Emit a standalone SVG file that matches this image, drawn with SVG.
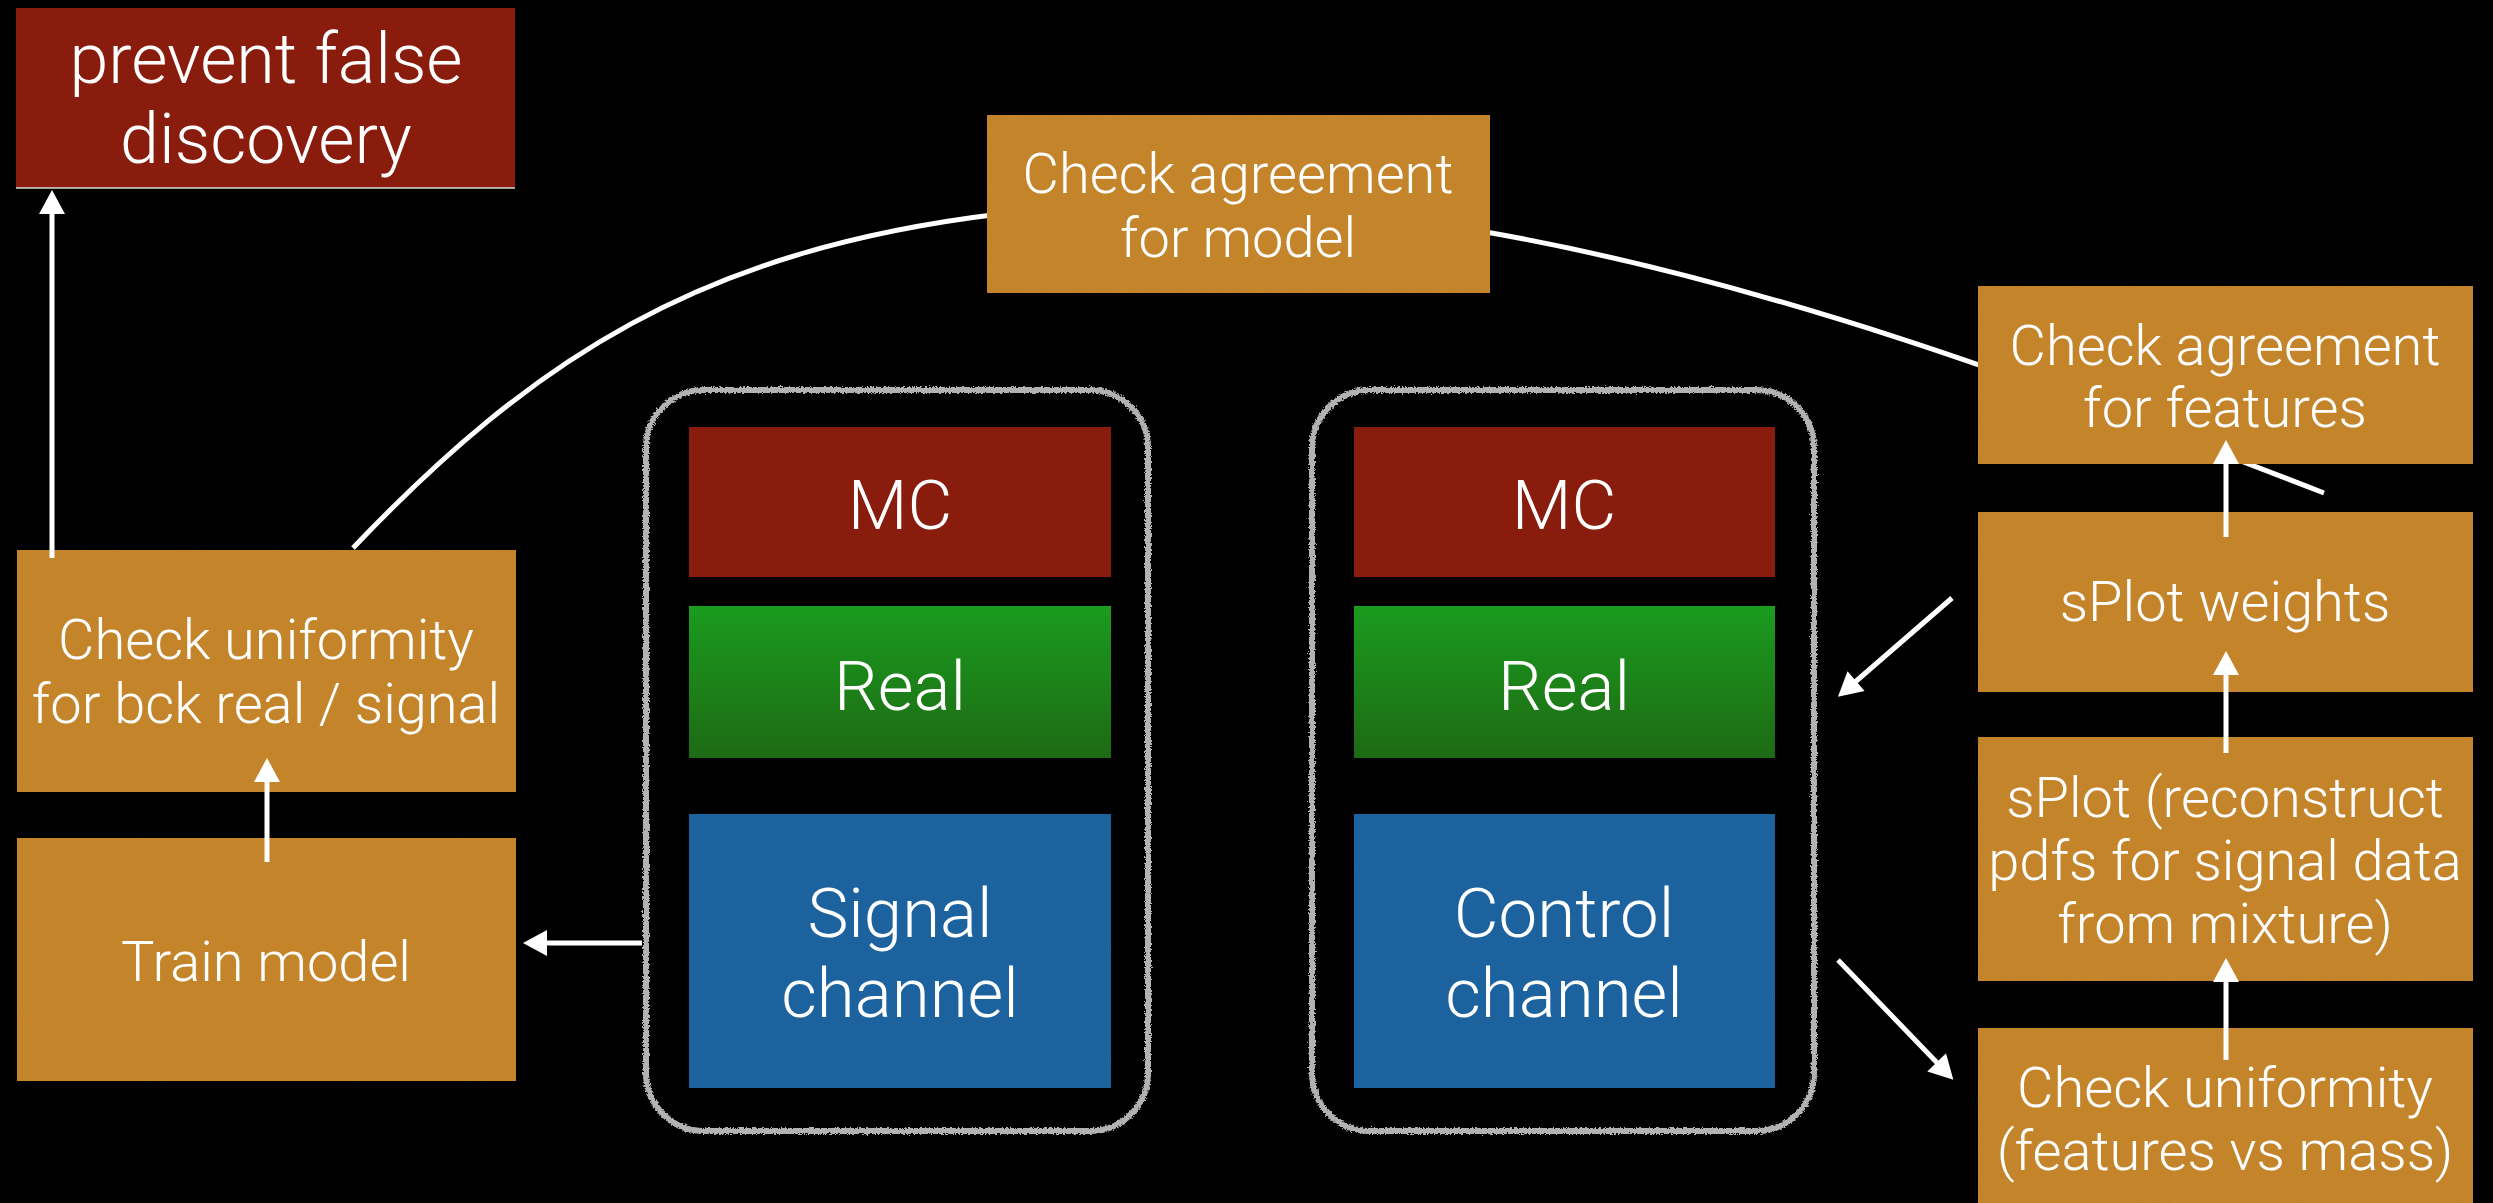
<svg xmlns="http://www.w3.org/2000/svg" width="2493" height="1203" viewBox="0 0 2493 1203">
<style>
.red{fill:#8c2217;filter:url(#grain)}
.org{fill:#c8872f;filter:url(#grain)}
.blu{fill:#2065a2;filter:url(#grain)}
.grn{fill:url(#gg)}
.t{font-family:Roboto,"Open Sans",Lato,"Liberation Sans",sans-serif;font-weight:300;fill:#ffffff;text-anchor:middle}
.big{font-size:69px}
.mid{font-size:56px}
.cont{fill:none;stroke:#b2b2b2;stroke-width:6;filter:url(#rough)}
.ln{fill:none;stroke:#ffffff;stroke-width:5}
.arr{fill:none;stroke:#ffffff;stroke-width:5;marker-end:url(#ah)}
.edge{stroke:#d8d8d8;stroke-width:1.5}
</style>
<defs>
<linearGradient id="gg" gradientUnits="userSpaceOnUse" x1="0" y1="606" x2="0" y2="758">
<stop offset="0" stop-color="#1b9b1f"/>
<stop offset="1" stop-color="#1d6a13"/>
</linearGradient>
<filter id="rough" x="-5%" y="-5%" width="110%" height="110%">
<feTurbulence type="fractalNoise" baseFrequency="0.55" numOctaves="2" seed="4" result="n"/>
<feDisplacementMap in="SourceGraphic" in2="n" scale="5" xChannelSelector="R" yChannelSelector="G"/>
</filter>
<filter id="grain" x="0" y="0" width="100%" height="100%">
<feTurbulence type="fractalNoise" baseFrequency="0.8" numOctaves="2" seed="7" result="t"/>
<feColorMatrix in="t" type="matrix" values="0 0 0 0 0  0 0 0 0 0  0 0 0 0 0  0 0 0 0.08 0" result="a"/>
<feComposite in="a" in2="SourceGraphic" operator="in" result="b"/>
<feMerge><feMergeNode in="SourceGraphic"/><feMergeNode in="b"/></feMerge>
</filter>
<marker id="ah" markerUnits="userSpaceOnUse" markerWidth="26" markerHeight="26" viewBox="0 0 24 26" refX="12" refY="13" orient="auto">
<path d="M0,0 L24,13 L0,26 z" fill="#ffffff"/>
</marker>
<mask id="curveMask" maskUnits="userSpaceOnUse" x="0" y="0" width="2493" height="1203">
<rect x="0" y="0" width="2493" height="1203" fill="#ffffff"/>
<rect x="987" y="115" width="503" height="178" fill="#000000"/>
<rect x="1978" y="286" width="495" height="178" fill="#000000"/>
</mask>
</defs>
<rect x="0" y="0" width="2493" height="1203" fill="#000000"/>

<g id="signal-group">
<rect class="cont" x="646" y="390" width="502" height="741" rx="58"/>
</g>
<g id="control-group">
<rect class="cont" x="1312" y="390" width="502" height="741" rx="58"/>
</g>

<g id="prevent">
<rect class="red" x="16" y="8" width="499" height="180"/>
<line class="edge" x1="16" y1="188" x2="515" y2="188"/>
<text class="t" font-size="70" x="266" y="83">prevent false</text>
<text class="t" font-size="70" x="266" y="163">discovery</text>
</g>
<g id="check-model">
<rect class="org" x="987" y="115" width="503" height="178"/>
<text class="t mid" x="1238" y="193">Check agreement</text>
<text class="t mid" x="1238" y="257">for model</text>
</g>
<g id="check-uniformity-bck">
<rect class="org" x="17" y="550" width="499" height="242"/>
<text class="t mid" x="266" y="659">Check uniformity</text>
<text class="t mid" x="266" y="723">for bck real / signal</text>
</g>
<g id="train-model">
<rect class="org" x="17" y="838" width="499" height="243"/>
<text class="t mid" x="266" y="981">Train model</text>
</g>
<g id="mc-signal">
<rect class="red" x="689" y="427" width="422" height="150"/>
<text class="t big" x="900" y="529">MC</text>
</g>
<g id="real-signal">
<rect class="grn" x="689" y="606" width="422" height="152"/>
<text class="t big" x="900" y="710">Real</text>
</g>
<g id="signal-channel">
<rect class="blu" x="689" y="814" width="422" height="274"/>
<text class="t big" x="900" y="937">Signal</text>
<text class="t big" x="900" y="1017">channel</text>
</g>
<g id="mc-control">
<rect class="red" x="1354" y="427" width="421" height="150"/>
<text class="t big" x="1564" y="529">MC</text>
</g>
<g id="real-control">
<rect class="grn" x="1354" y="606" width="421" height="152"/>
<text class="t big" x="1564" y="710">Real</text>
</g>
<g id="control-channel">
<rect class="blu" x="1354" y="814" width="421" height="274"/>
<text class="t big" x="1564" y="937">Control</text>
<text class="t big" x="1564" y="1017">channel</text>
</g>
<g id="check-features">
<rect class="org" x="1978" y="286" width="495" height="178"/>
<text class="t mid" x="2225" y="365">Check agreement</text>
<text class="t mid" x="2225" y="427">for features</text>
</g>
<g id="splot-weights">
<rect class="org" x="1978" y="512" width="495" height="180"/>
<text class="t mid" x="2225" y="621">sPlot weights</text>
</g>
<g id="splot-reconstruct">
<rect class="org" x="1978" y="737" width="495" height="244"/>
<text class="t mid" x="2225" y="817">sPlot (reconstruct</text>
<text class="t mid" x="2225" y="880">pdfs for signal data</text>
<text class="t mid" x="2225" y="943">from mixture)</text>
</g>
<g id="check-uniformity-mass">
<rect class="org" x="1978" y="1028" width="495" height="175"/>
<text class="t mid" x="2225" y="1107">Check uniformity</text>
<text class="t mid" x="2225" y="1170">(features vs mass)</text>
</g>

<g id="connectors">
<path class="ln" mask="url(#curveMask)" d="M353,548 C533,359 700,250 1000,214 C1160,195 1320,204 1480,231 C1760,279 2044,384 2324,493"/>
<line class="arr" x1="52" y1="558" x2="52" y2="202"/>
<line class="arr" x1="267" y1="862" x2="267" y2="770"/>
<line class="arr" x1="642" y1="943" x2="535" y2="943"/>
<line class="arr" x1="1952" y1="598" x2="1847" y2="689"/>
<line class="arr" x1="1838" y1="960" x2="1945" y2="1071"/>
<line class="arr" x1="2226" y1="753" x2="2226" y2="663"/>
<line class="arr" x1="2226" y1="1060" x2="2226" y2="970"/>
<line class="arr" x1="2226" y1="537" x2="2226" y2="452"/>
</g>
</svg>
